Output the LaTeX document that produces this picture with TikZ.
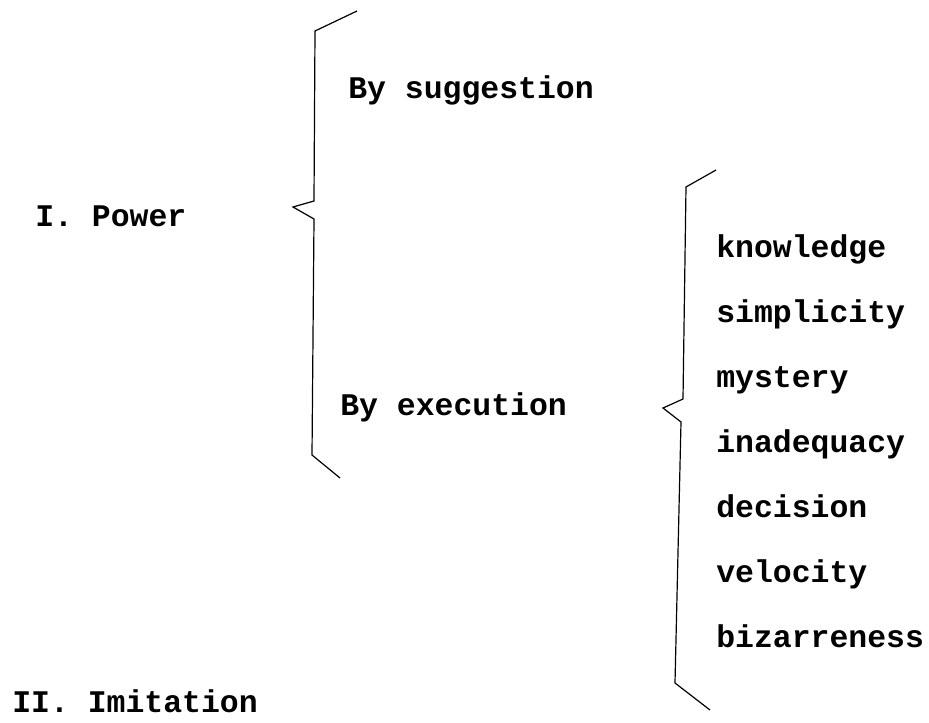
\documentclass[tikz,border=0pt]{standalone}
\usepackage{fontspec}
\setmonofont{Liberation Mono}
\usepackage{tikz}
\usetikzlibrary{
    positioning  % For relative node placement (below=of ...)
}
\tikzset{
  % Style for typed words
  typed/.style={
    anchor=west, inner sep=0pt, text height=11pt, text depth=5pt,
    font=\ttfamily\bfseries\fontsize{23.6}{28}\selectfont
  },
  % Style for the hand drawn braces
  brace/.style={
    draw, line width=0.9pt, line join=miter
  }
}
\begin{document}
\begin{tikzpicture}[x=0.75pt, y=-0.75pt, node distance=48.75pt]
    \useasboundingbox (0,0) rectangle (929,722);

    % headings
    \node[typed] (power) at (35,222) {I. Power};
    \node[typed] (imitation) at (12,708) {II. Imitation};

    % first level
    \node[typed] (suggestion) at (348,94) {By suggestion};
    \node[typed] (execution) at (340,411) {By execution};

    % second level
    \node[typed] (knowledge) at (716,253) {knowledge};
    \node[typed, below=of knowledge.west, anchor=west] (simplicity) {simplicity};
    \node[typed, below=of simplicity.west, anchor=west] (mystery) {mystery};
    \node[typed, below=of mystery.west, anchor=west] (inadequacy) {inadequacy};
    \node[typed, below=of inadequacy.west, anchor=west] (decision) {decision};
    \node[typed, below=of decision.west, anchor=west] (velocity) {velocity};
    \node[typed, below=of velocity.west, anchor=west] (bizarreness) {bizarreness};

    % brace for I. Power
    \coordinate (b1tip) at (293,207);
    \coordinate (b1top) at (357,11);
    \coordinate (b1bot) at (340,478);
    \draw[brace] (b1top) -- (315,31) -- (314,201) -- (b1tip) -- (314,219) -- (312,455) -- (b1bot);

    % brace for By execution
    \coordinate (b2tip) at (663,408);
    \coordinate (b2top) at (716,170);
    \coordinate (b2bot) at (710,710);
    \draw[brace] (b2top) -- (686,187) -- (683,399) -- (b2tip) -- (681,422) -- (675,683) -- (b2bot);

\end{tikzpicture}
\end{document}
